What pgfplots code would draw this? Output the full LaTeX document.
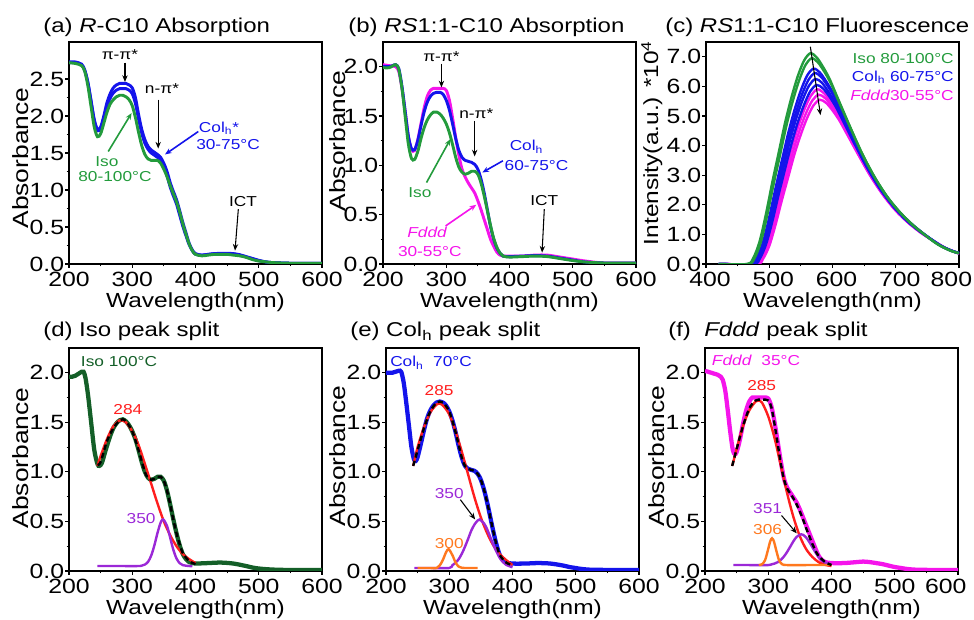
\documentclass[border=0pt]{standalone}
\usepackage{fontspec}
\setmainfont{Liberation Sans}[FakeStretch=1.2]
\usepackage{pgfplots}
\pgfplotsset{compat=1.18}
\usetikzlibrary{arrows.meta}

\definecolor{cgreen}{RGB}{35,155,60}
\definecolor{cblue}{RGB}{20,20,235}
\definecolor{cmag}{RGB}{245,20,235}
\definecolor{cdkgreen}{RGB}{20,95,40}
\definecolor{cred}{RGB}{255,30,30}
\definecolor{cpurp}{RGB}{155,40,215}
\definecolor{corange}{RGB}{255,120,30}

\newcommand{\af}{\fontsize{10.8}{13}\selectfont}
\newcommand{\tf}{\fontsize{15}{18}\selectfont}
\tikzset{arr/.style={-{Stealth[length=5pt,width=4pt]}, line width=0.8pt}}

\pgfplotsset{
 panel/.style={
  scale only axis, width=189.75pt,
  axis line style={line width=1.3pt},
  every tick/.style={black, line width=0.9pt},
  tick align=outside, tick pos=left,
  major tick length=3pt, minor tick length=1.8pt,
  minor y tick num=1,
  /pgf/number format/assume math mode=true,
  ticklabel style={font=\fontsize{15.5}{17}\selectfont},
  yticklabel style={/pgf/number format/fixed, /pgf/number format/precision=1, /pgf/number format/fixed zerofill, anchor=east, inner sep=0.5pt},
  xticklabel style={anchor=north, inner sep=1pt, yshift=-1.5pt},
  xlabel style={font=\fontsize{15.3}{18}\selectfont},
  ylabel style={font=\fontsize{16.5}{19}\selectfont},
  xlabel={Wavelength(nm)},
 },
 absp/.style={panel, xmin=200, xmax=600, ylabel={Absorbance}, ymin=0, minor xtick={250,350,450,550}},
 top/.style={height=166.5pt, xlabel style={at={(axis description cs:0.5,-0.197)}, anchor=base}},
 bot/.style={height=167.25pt, ymax=2.25, ytick={0,0.5,1,1.5,2}, xlabel style={at={(axis description cs:0.5,-0.195)}, anchor=base}},
}

\begin{document}
\begin{tikzpicture}
\useasboundingbox (0,0) rectangle (730.5pt,465pt);

% ---------------- (a)
\begin{axis}[absp, top, at={(51.75pt,267pt)}, anchor=south west, xtick={200,300,400,500,600}, ymax=3.0, ytick={0,0.5,1,1.5,2,2.5},
  ylabel style={at={(axis description cs:-0.19,0.477)}, anchor=center}]
\addplot[cblue, line width=2.2pt, smooth] coordinates {(200,2.73)(210,2.73)(220,2.70)(225,2.62)(230,2.45)(235,2.20)(240,1.95)(245,1.82)(250,1.85)(255,2.00)(260,2.18)(265,2.30)(270,2.38)(275,2.42)(280,2.44)(285,2.44)(290,2.44)(295,2.42)(300,2.38)(305,2.25)(310,2.02)(315,1.82)(320,1.68)(325,1.59)(330,1.54)(335,1.51)(340,1.48)(345,1.44)(350,1.36)(355,1.25)(360,1.10)(365,0.98)(370,0.87)(375,0.72)(380,0.56)(385,0.42)(390,0.28)(395,0.19)(400,0.14)(410,0.12)(420,0.13)(430,0.14)(440,0.145)(450,0.145)(460,0.14)(470,0.125)(480,0.10)(490,0.075)(500,0.05)(510,0.03)(520,0.02)(550,0.01)(600,0.01)};
\addplot[cblue, line width=2.2pt, smooth] coordinates {(200,2.72)(210,2.72)(220,2.69)(225,2.61)(230,2.44)(235,2.19)(240,1.93)(245,1.80)(250,1.83)(255,1.97)(260,2.13)(265,2.24)(270,2.31)(275,2.35)(280,2.37)(285,2.37)(290,2.37)(295,2.35)(300,2.30)(305,2.17)(310,1.96)(315,1.77)(320,1.63)(325,1.55)(330,1.50)(335,1.47)(340,1.44)(345,1.40)(350,1.31)(355,1.19)(360,1.04)(365,0.92)(370,0.81)(375,0.66)(380,0.51)(385,0.38)(390,0.26)(395,0.18)(400,0.13)(410,0.12)(420,0.13)(430,0.14)(440,0.14)(450,0.14)(460,0.135)(470,0.12)(480,0.095)(490,0.07)(500,0.045)(510,0.03)(520,0.02)(550,0.01)(600,0.01)};
\addplot[cgreen, line width=2.2pt, smooth] coordinates {(200,2.72)(210,2.71)(220,2.68)(225,2.60)(230,2.40)(235,2.12)(240,1.85)(245,1.72)(250,1.76)(255,1.90)(260,2.05)(265,2.16)(270,2.22)(275,2.26)(280,2.28)(285,2.28)(290,2.26)(295,2.22)(300,2.14)(305,1.98)(310,1.78)(315,1.60)(320,1.48)(325,1.42)(330,1.40)(335,1.40)(340,1.40)(345,1.36)(350,1.28)(355,1.18)(360,1.06)(365,0.95)(370,0.84)(375,0.70)(380,0.54)(385,0.40)(390,0.27)(395,0.18)(400,0.13)(410,0.11)(420,0.12)(430,0.13)(440,0.13)(450,0.13)(460,0.12)(470,0.11)(480,0.09)(490,0.06)(500,0.04)(510,0.03)(520,0.02)(550,0.01)(600,0.01)};
\node[anchor=base, inner sep=0] at (280.6,2.77) {\af π-π*};
\draw[arr] (288.5,2.72) -- (288.5,2.46);
\node[anchor=base, inner sep=0] at (347,2.30) {\af n-π*};
\draw[arr] (341,2.22) -- (341,1.56);
\node[anchor=base west, inner sep=0, text=cblue] at (405,1.78) {\af Col\textsubscript{h}*};
\node[anchor=base west, inner sep=0, text=cblue] at (400.8,1.55) {\af 30-75°C};
\draw[arr, cblue, line width=1.2pt] (404.4,1.79) -- (351.8,1.48);
\node[anchor=base, inner sep=0, text=cgreen] at (260,1.317) {\af Iso};
\node[anchor=base, inner sep=0, text=cgreen] at (272.7,1.116) {\af 80-100°C};
\draw[arr, cgreen, line width=1.2pt] (262,1.52) -- (299,2.04);
\node[anchor=base, inner sep=0] at (475,0.78) {\af ICT};
\draw[arr] (467.7,0.74) -- (462.5,0.18);
\end{axis}

% ---------------- (b)
\begin{axis}[absp, top, at={(287.25pt,267pt)}, anchor=south west, xtick={200,300,400,500,600}, ymax=2.25, ytick={0,0.5,1,1.5,2},
  ylabel style={at={(axis description cs:-0.18,0.554)}, anchor=center}]
\addplot[cmag, line width=2.2pt, smooth] coordinates {(200,2.02)(210,2.01)(220,2.00)(225,1.95)(230,1.78)(235,1.55)(240,1.30)(245,1.16)(250,1.15)(255,1.26)(260,1.42)(265,1.58)(270,1.70)(275,1.76)(280,1.78)(285,1.78)(290,1.78)(295,1.78)(300,1.76)(305,1.66)(310,1.48)(315,1.28)(320,1.10)(325,0.96)(330,0.88)(335,0.82)(340,0.77)(345,0.72)(350,0.64)(355,0.55)(360,0.45)(365,0.35)(370,0.25)(375,0.18)(380,0.12)(385,0.09)(390,0.08)(400,0.08)(420,0.08)(440,0.09)(460,0.09)(480,0.07)(500,0.05)(520,0.03)(550,0.01)(600,0.01)};
\addplot[cblue, line width=2.2pt, smooth] coordinates {(200,2.00)(210,2.00)(215,2.01)(220,2.02)(225,1.98)(230,1.80)(235,1.55)(240,1.30)(245,1.17)(250,1.16)(255,1.25)(260,1.40)(265,1.54)(270,1.64)(275,1.70)(280,1.73)(285,1.74)(290,1.74)(295,1.72)(300,1.66)(305,1.56)(310,1.42)(315,1.27)(320,1.15)(325,1.08)(330,1.05)(335,1.04)(340,1.03)(345,1.01)(350,0.96)(355,0.86)(360,0.72)(365,0.55)(370,0.38)(375,0.25)(380,0.16)(385,0.11)(390,0.08)(400,0.075)(420,0.08)(440,0.085)(460,0.08)(480,0.06)(500,0.04)(520,0.02)(550,0.01)(600,0.01)};
\addplot[cgreen, line width=2.2pt, smooth] coordinates {(200,1.99)(210,1.99)(220,2.02)(225,1.97)(230,1.78)(235,1.50)(240,1.22)(245,1.07)(250,1.06)(255,1.14)(260,1.27)(265,1.38)(270,1.46)(275,1.51)(280,1.54)(285,1.54)(290,1.52)(295,1.48)(300,1.42)(305,1.33)(310,1.21)(315,1.08)(320,0.98)(325,0.93)(330,0.91)(335,0.92)(340,0.94)(345,0.94)(350,0.91)(355,0.82)(360,0.69)(365,0.54)(370,0.39)(375,0.26)(380,0.17)(385,0.11)(390,0.08)(400,0.07)(420,0.075)(440,0.08)(460,0.075)(480,0.055)(500,0.035)(520,0.02)(550,0.01)(600,0.01)};
\node[anchor=base, inner sep=0] at (292.4,2.05) {\af π-π*};
\draw[arr] (292.4,2.03) -- (292.4,1.79);
\node[anchor=base, inner sep=0] at (347.5,1.47) {\af n-π*};
\draw[arr] (344.9,1.45) -- (344.9,1.09);
\node[anchor=base west, inner sep=0, text=cblue] at (400,1.147) {\af Col\textsubscript{h}};
\node[anchor=base west, inner sep=0, text=cblue] at (392,0.944) {\af 60-75°C};
\draw[arr, cblue, line width=1.2pt] (389.5,1.046) -- (357,0.927);
\node[anchor=base, inner sep=0, text=cgreen] at (258.3,0.673) {\af Iso};
\draw[arr, cgreen, line width=1.2pt] (268.8,0.825) -- (306.6,1.266);
\node[anchor=base, inner sep=0, text=cmag] at (270,0.264) {\af \textit{Fddd}};
\node[anchor=base, inner sep=0, text=cmag] at (274,0.081) {\af 30-55°C};
\draw[arr, cmag, line width=1.2pt] (299,0.386) -- (347.5,0.6);
\node[anchor=base, inner sep=0] at (455,0.596) {\af ICT};
\draw[arr] (455,0.555) -- (451.5,0.115);
\end{axis}

% ---------------- (c)
\begin{axis}[panel, top, at={(529.5pt,267pt)}, anchor=south west, xmin=400, xmax=800,
  xtick={400,500,600,700}, minor xtick={450,550,650,750},
  xticklabel style={xshift=3pt},
  extra x ticks={800}, extra x tick style={xticklabel style={anchor=north east, xshift=8pt}},
  ymin=0, ymax=7.5, ytick={0,1,2,3,4,5,6,7}, minor y tick num=0,
  ylabel={Intensity(a.u.) *10\textsuperscript{4}},
  ylabel style={font=\fontsize{15.3}{18}\selectfont, at={(axis description cs:-0.214,0.545)}, anchor=center}]
\addplot[cmag, line width=1.8pt, smooth] coordinates {(420,0)(480,0)(490,0.17)(500,0.61)(510,1.33)(520,2.16)(530,2.94)(540,3.72)(550,4.38)(560,4.94)(570,5.36)(580,5.55)(590,5.44)(600,5.19)(610,4.88)(620,4.50)(640,3.72)(660,2.97)(680,2.33)(700,1.80)(720,1.39)(740,1.05)(760,0.78)(780,0.53)(800,0.36)};
\addplot[cmag, line width=1.8pt, smooth] coordinates {(420,0)(478,0)(488,0.17)(498,0.63)(508,1.37)(518,2.23)(528,3.03)(538,3.83)(548,4.52)(558,5.09)(568,5.52)(578,5.72)(588,5.61)(598,5.35)(608,5.03)(618,4.63)(638,3.83)(658,3.06)(678,2.40)(698,1.86)(718,1.43)(738,1.09)(758,0.80)(778,0.54)(798,0.37)(800,0.36)};
\addplot[cmag, line width=1.8pt, smooth] coordinates {(420,0)(476,0)(486,0.18)(496,0.65)(506,1.42)(516,2.30)(526,3.13)(536,3.95)(546,4.66)(556,5.25)(566,5.69)(576,5.90)(586,5.78)(596,5.52)(606,5.19)(616,4.78)(636,3.95)(656,3.16)(676,2.48)(696,1.92)(716,1.48)(736,1.12)(756,0.83)(776,0.56)(796,0.38)(800,0.36)};
\addplot[cblue, line width=1.8pt, smooth] coordinates {(420,0)(475,0)(485,0.18)(495,0.67)(505,1.45)(515,2.36)(525,3.21)(535,4.05)(545,4.78)(555,5.38)(565,5.84)(575,6.05)(585,5.93)(595,5.66)(605,5.32)(615,4.90)(635,4.05)(655,3.24)(675,2.54)(695,1.97)(715,1.51)(735,1.15)(755,0.85)(775,0.57)(795,0.39)(800,0.37)};
\addplot[cblue, line width=1.8pt, smooth] coordinates {(420,0)(473,0)(483,0.19)(493,0.69)(503,1.50)(513,2.44)(523,3.31)(533,4.19)(543,4.94)(553,5.56)(563,6.03)(573,6.25)(583,6.13)(593,5.84)(603,5.50)(613,5.06)(633,4.19)(653,3.34)(673,2.63)(693,2.03)(713,1.56)(733,1.19)(753,0.88)(773,0.59)(793,0.41)(800,0.38)};
\addplot[cblue, line width=1.8pt, smooth] coordinates {(420,0)(472,0)(482,0.19)(492,0.71)(502,1.55)(512,2.52)(522,3.42)(532,4.32)(542,5.10)(552,5.74)(562,6.22)(572,6.45)(582,6.32)(592,6.03)(602,5.68)(612,5.22)(632,4.32)(652,3.45)(672,2.71)(692,2.10)(712,1.61)(732,1.23)(752,0.90)(772,0.61)(792,0.42)(800,0.38)};
\addplot[cblue, line width=1.8pt, smooth] coordinates {(420,0)(470,0)(480,0.20)(490,0.73)(500,1.58)(510,2.57)(520,3.50)(530,4.42)(540,5.21)(550,5.87)(560,6.37)(570,6.60)(580,6.47)(590,6.17)(600,5.81)(610,5.35)(630,4.42)(650,3.53)(670,2.77)(690,2.15)(710,1.65)(730,1.25)(750,0.92)(770,0.63)(790,0.43)(800,0.38)};
\addplot[cgreen, line width=1.8pt, smooth] coordinates {(420,0)(467,0)(477,0.21)(487,0.76)(497,1.67)(507,2.71)(517,3.68)(527,4.66)(537,5.49)(547,6.19)(557,6.71)(567,6.95)(577,6.81)(587,6.50)(597,6.12)(607,5.63)(627,4.66)(647,3.72)(667,2.92)(687,2.26)(707,1.74)(727,1.32)(747,0.97)(767,0.66)(787,0.45)(800,0.37)};
\addplot[cgreen, line width=1.8pt, smooth] coordinates {(420,0)(465,0)(475,0.21)(485,0.78)(495,1.71)(505,2.78)(515,3.77)(525,4.77)(535,5.62)(545,6.34)(555,6.87)(565,7.12)(575,6.98)(585,6.66)(595,6.27)(605,5.77)(625,4.77)(645,3.81)(665,2.99)(685,2.31)(705,1.78)(725,1.35)(745,1.00)(765,0.68)(785,0.46)(800,0.36)};
\draw[arr] (565,7.34) -- (581,5.03);
\node[anchor=base east, inner sep=0, text=cgreen] at (792,6.79) {\af Iso 80-100°C};
\node[anchor=base east, inner sep=0, text=cblue] at (792,6.16) {\af Col\textsubscript{h} 60-75°C};
\node[anchor=base east, inner sep=0, text=cmag] at (792,5.54) {\af \textit{Fddd}30-55°C};
\end{axis}

% ---------------- (d)
\begin{axis}[absp, bot, at={(51.75pt,36.75pt)}, anchor=south west, xtick={200,300,400,500,600},
  ylabel style={at={(axis description cs:-0.19,0.507)}, anchor=center}]
\addplot[cdkgreen, line width=3.2pt, smooth] coordinates {(200,1.96)(205,1.96)(210,1.97)(215,1.99)(220,2.01)(223,2.01)(226,1.95)(230,1.78)(235,1.50)(240,1.22)(245,1.08)(248,1.06)(252,1.09)(258,1.22)(265,1.36)(270,1.44)(275,1.49)(280,1.52)(285,1.53)(290,1.51)(295,1.47)(300,1.41)(305,1.33)(310,1.22)(315,1.10)(320,1.00)(325,0.94)(330,0.92)(335,0.93)(340,0.95)(345,0.95)(350,0.91)(355,0.81)(360,0.67)(365,0.52)(370,0.38)(375,0.26)(380,0.17)(385,0.12)(390,0.09)(395,0.08)(400,0.075)(420,0.08)(440,0.085)(460,0.075)(480,0.05)(490,0.035)(500,0.025)(520,0.015)(550,0.01)(600,0.01)};
\addplot[cred, line width=1.8pt, smooth] coordinates {(245,1.06)(250,1.16)(260,1.33)(270,1.46)(280,1.52)(283,1.52)(290,1.50)(300,1.41)(310,1.27)(320,1.08)(330,0.88)(340,0.68)(350,0.50)(360,0.36)(370,0.25)(380,0.17)(390,0.12)(400,0.08)};
\addplot[cpurp, line width=1.8pt, smooth] coordinates {(245,0.05)(280,0.05)(310,0.05)(315,0.054)(320,0.065)(325,0.093)(330,0.156)(335,0.259)(340,0.386)(345,0.49)(349,0.52)(355,0.455)(360,0.335)(365,0.213)(370,0.126)(375,0.079)(380,0.059)(390,0.05)(395,0.05)};
\addplot[black, line width=1.8pt, dash pattern=on 4pt off 2.5pt, smooth] coordinates {(245,1.07)(250,1.10)(260,1.31)(270,1.44)(280,1.52)(285,1.53)(290,1.51)(300,1.41)(310,1.22)(320,1.00)(325,0.94)(330,0.92)(335,0.93)(340,0.95)(345,0.95)(350,0.91)(355,0.81)(360,0.67)(365,0.52)(370,0.38)(375,0.27)(380,0.18)(390,0.10)(400,0.07)};
\node[anchor=base west, inner sep=0, text=cdkgreen] at (218.5,2.06) {\af Iso 100°C};
\node[anchor=base, inner sep=0, text=cred] at (293,1.58) {\af 284};
\node[anchor=base, inner sep=0, text=cpurp] at (314,0.477) {\af 350};
\end{axis}

% ---------------- (e)
\begin{axis}[absp, bot, at={(289.5pt,36.75pt)}, anchor=south west, xtick={200,300,400,500,600},
  ylabel style={at={(axis description cs:-0.19,0.516)}, anchor=center}]
\addplot[cblue, line width=3.2pt, smooth] coordinates {(200,2.00)(205,2.00)(210,2.00)(215,2.01)(220,2.02)(224,2.01)(228,1.90)(232,1.70)(236,1.48)(240,1.26)(244,1.13)(247,1.11)(250,1.15)(255,1.28)(260,1.42)(265,1.54)(270,1.62)(275,1.67)(280,1.70)(285,1.71)(290,1.70)(295,1.67)(300,1.61)(305,1.52)(310,1.40)(315,1.26)(320,1.14)(325,1.06)(330,1.03)(335,1.02)(340,1.01)(345,0.98)(350,0.92)(355,0.82)(360,0.69)(365,0.54)(370,0.39)(375,0.26)(380,0.16)(385,0.11)(390,0.085)(400,0.075)(420,0.075)(440,0.08)(460,0.075)(480,0.055)(490,0.04)(500,0.03)(510,0.02)(530,0.012)(600,0.01)};
\addplot[cred, line width=1.8pt, smooth] coordinates {(243,1.06)(250,1.25)(260,1.45)(270,1.60)(280,1.68)(284,1.69)(290,1.67)(300,1.58)(310,1.41)(320,1.20)(330,0.97)(340,0.74)(350,0.54)(360,0.38)(370,0.255)(380,0.17)(390,0.11)(400,0.06)};
\addplot[cpurp, line width=1.8pt, smooth] coordinates {(245,0.03)(270,0.03)(300,0.03)(305,0.058)(310,0.083)(315,0.12)(320,0.176)(325,0.247)(330,0.327)(335,0.41)(340,0.47)(345,0.51)(348,0.52)(355,0.48)(360,0.42)(365,0.34)(370,0.26)(375,0.19)(380,0.13)(385,0.089)(390,0.062)(400,0.037)};
\addplot[corange, line width=1.8pt, smooth] coordinates {(250,0.03)(270,0.03)(280,0.03)(285,0.056)(290,0.113)(295,0.19)(299,0.22)(305,0.16)(310,0.085)(315,0.044)(320,0.032)(330,0.03)(345,0.03)};
\addplot[black, line width=1.8pt, dash pattern=on 4pt off 2.5pt, smooth] coordinates {(243,1.06)(250,1.22)(260,1.44)(270,1.61)(280,1.70)(285,1.71)(290,1.70)(300,1.61)(310,1.40)(320,1.14)(325,1.06)(330,1.03)(340,1.01)(345,0.98)(350,0.92)(355,0.82)(360,0.69)(365,0.54)(370,0.39)(375,0.26)(380,0.16)(390,0.085)(400,0.06)};
\node[anchor=base west, inner sep=0, text=cblue] at (206.3,2.06) {\af Col\textsubscript{h}\ \ 70°C};
\node[anchor=base, inner sep=0, text=cred] at (284,1.77) {\af 285};
\node[anchor=base, inner sep=0, text=cpurp] at (300,0.73) {\af 350};
\draw[arr] (317.5,0.72) -- (341,0.52);
\node[anchor=base, inner sep=0, text=corange] at (300,0.23) {\af 300};
\end{axis}

% ---------------- (f)
\begin{axis}[absp, bot, at={(528.75pt,36.75pt)}, anchor=south west, xtick={200,300,400,500},
  extra x ticks={600}, extra x tick style={xticklabel style={anchor=north east, xshift=7.5pt}},
  ylabel style={at={(axis description cs:-0.19,0.516)}, anchor=center}]
\addplot[cmag, line width=3.2pt, smooth] coordinates {(200,2.02)(205,2.01)(210,2.00)(215,1.99)(220,1.98)(225,1.96)(228,1.93)(232,1.82)(236,1.62)(240,1.40)(244,1.22)(247,1.18)(250,1.20)(255,1.32)(260,1.48)(265,1.62)(270,1.71)(275,1.75)(280,1.75)(285,1.75)(290,1.75)(295,1.75)(300,1.74)(305,1.66)(310,1.50)(315,1.30)(320,1.10)(325,0.93)(330,0.84)(335,0.79)(340,0.74)(345,0.69)(350,0.62)(355,0.54)(360,0.46)(365,0.38)(370,0.30)(375,0.22)(380,0.15)(385,0.11)(390,0.09)(400,0.08)(420,0.08)(440,0.09)(450,0.095)(460,0.09)(480,0.07)(490,0.055)(500,0.04)(510,0.03)(520,0.02)(540,0.012)(600,0.01)};
\addplot[cred, line width=1.8pt, smooth] coordinates {(243,1.06)(250,1.23)(260,1.46)(270,1.62)(280,1.71)(284,1.72)(290,1.70)(300,1.56)(310,1.34)(320,1.06)(330,0.78)(340,0.54)(350,0.35)(360,0.22)(370,0.14)(380,0.088)(390,0.062)(400,0.05)};
\addplot[cpurp, line width=1.8pt, smooth] coordinates {(245,0.06)(270,0.06)(300,0.06)(305,0.067)(310,0.075)(315,0.089)(320,0.113)(325,0.148)(330,0.194)(335,0.248)(340,0.302)(345,0.345)(352,0.37)(355,0.365)(360,0.337)(365,0.292)(370,0.237)(375,0.184)(380,0.14)(385,0.107)(390,0.085)(400,0.066)};
\addplot[corange, line width=1.8pt, smooth] coordinates {(285,0.06)(290,0.068)(295,0.11)(300,0.224)(303,0.298)(306,0.33)(309,0.298)(312,0.224)(317,0.11)(322,0.068)(330,0.06)(360,0.06)(400,0.06)};
\addplot[black, line width=1.8pt, dash pattern=on 4pt off 2.5pt, smooth] coordinates {(243,1.06)(250,1.23)(260,1.46)(270,1.64)(280,1.72)(290,1.73)(300,1.72)(305,1.65)(310,1.48)(315,1.28)(320,1.08)(325,0.92)(330,0.83)(335,0.78)(340,0.73)(345,0.67)(350,0.60)(355,0.52)(360,0.43)(365,0.35)(370,0.27)(375,0.20)(380,0.15)(390,0.09)(400,0.06)};
\node[anchor=base west, inner sep=0, text=cmag] at (210.6,2.07) {\af \textit{Fddd}\ \ 35°C};
\node[anchor=base, inner sep=0, text=cred] at (289.6,1.82) {\af 285};
\node[anchor=base, inner sep=0, text=cpurp] at (299,0.585) {\af 351};
\draw[arr] (321,0.56) -- (345,0.38);
\node[anchor=base, inner sep=0, text=corange] at (299,0.365) {\af 306};
\end{axis}

% ---------------- titles
\begin{scope}[x=0.75pt, y=-0.75pt, shift={(0pt,465pt)}]
\node[anchor=base west, inner sep=0] at (43,33) {\tf (a) \textit{R}-C10 Absorption};
\node[anchor=base west, inner sep=0] at (348,33) {\tf (b) \textit{RS}1:1-C10 Absorption};
\node[anchor=base west, inner sep=0] at (665,33) {\tf (c) \textit{RS}1:1-C10 Fluorescence};
\node[anchor=base west, inner sep=0] at (43,337) {\tf (d)\ Iso peak split};
\node[anchor=base west, inner sep=0] at (350,337) {\tf (e)\ Col\textsubscript{h} peak split};
\node[anchor=base west, inner sep=0] at (668,337) {\tf (f)\ \ \textit{Fddd} peak split};
\end{scope}
\end{tikzpicture}
\end{document}
